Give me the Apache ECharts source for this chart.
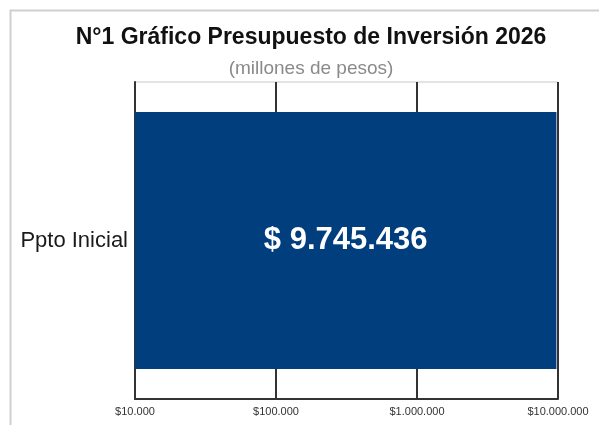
<!DOCTYPE html>
<html>
<head>
<meta charset="utf-8">
<script src="https://cdn.jsdelivr.net/npm/echarts@6/dist/echarts.min.js"></script>
<style>
  html, body { margin: 0; padding: 0; background: #fff; }
  #chart { width: 599px; height: 425px; }
</style>
</head>
<body>
<div id="chart"></div>
<script>
const categories = ['Ppto Inicial']
const budgetValues = [9745436]
const axisMin = 10000
const axisMax = 10000000

const font = '"Liberation Sans", Arial, sans-serif'

const withDots = (v) => String(Math.round(v)).replace(/\B(?=(\d{3})+(?!\d))/g, '.')

var myChart = echarts.init(document.getElementById('chart'))

var option = {
  backgroundColor: '#fff',
  animation: false,
  graphic: [
    {
      type: 'rect',
      left: 8,
      top: 8,
      shape: { width: 640, height: 480 },
      style: { fill: 'none', stroke: '#cfcfcf', lineWidth: 2 },
      silent: true,
    },
  ],
  title: [
    {
      text: 'N°1 Gráfico Presupuesto de Inversión 2026',
      left: 306,
      top: 21,
      textAlign: 'center',
      textStyle: { fontFamily: font, fontSize: 23, fontWeight: 'bold', color: '#111' },
    },
    {
      text: '(millones de pesos)',
      left: 306,
      top: 54,
      textAlign: 'center',
      textStyle: { fontFamily: font, fontSize: 19, fontWeight: 'normal', color: '#8a8a8a' },
    },
  ],
  grid: {
    left: 135,
    right: 41,
    top: 82,
    bottom: 26,
    show: true,
    borderColor: '#c8c8c8',
    borderWidth: 1,
    backgroundColor: '#fff',
  },
  xAxis: {
    type: 'log',
    logBase: 10,
    min: axisMin,
    max: axisMax,
    startValue: axisMin,
    axisLine: { show: true, lineStyle: { color: '#333', width: 2 } },
    axisTick: { show: false },
    splitLine: { show: true, lineStyle: { color: '#333', width: 2 } },
    axisLabel: {
      margin: 7,
      fontFamily: font,
      fontSize: 11,
      color: '#333',
      formatter: (v) => '$' + withDots(v),
    },
  },
  yAxis: {
    type: 'category',
    data: categories,
    axisLine: { show: true, lineStyle: { color: '#333', width: 2 } },
    axisTick: { show: false },
    axisLabel: { margin: 7, fontFamily: font, fontSize: 22, color: '#1a1a1a' },
  },
  series: [
    {
      type: 'bar',
      data: budgetValues,
      barWidth: '81%',
      clip: true,
      itemStyle: { color: '#003e7e' },
      label: {
        show: true,
        position: 'inside',
        fontFamily: font,
        fontSize: 31,
        fontWeight: 'bold',
        color: '#fff',
        formatter: (p) => '$ ' + withDots(p.value),
      },
    },
  ],
}

myChart.setOption(option)
</script>
</body>
</html>
